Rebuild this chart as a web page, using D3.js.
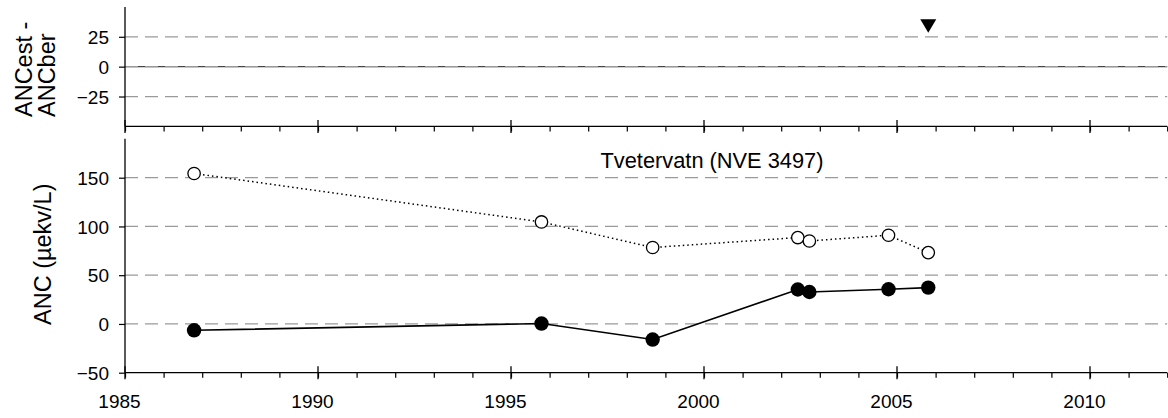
<!DOCTYPE html>
<html>
<head>
<meta charset="utf-8">
<script src="https://cdn.jsdelivr.net/npm/d3@7"></script>
<style>
  html, body { margin: 0; padding: 0; background: #fff; }
  svg { display: block; font-family: "Liberation Sans", Arial, sans-serif; }
  .domain { stroke: #000; stroke-width: 1.3; }
</style>
</head>
<body>
<div id="chart"></div>
<script>
// data
var sampleYears = [1986.79, 1995.79, 1998.67, 2002.43, 2002.73, 2004.78, 2005.81];
var ancEst = [154.3, 104.6, 78.4, 88.6, 85.1, 91.0, 73.2];      // open circles, dotted
var ancBer = [-6.5, 0.4, -16.0, 35.3, 32.8, 35.6, 37.3];        // filled circles, solid
var diffYears = [2005.81];
var diffValues = [34];                                          // ANCest - ANCber marker
var topTicks = [-25, 0, 25];
var bottomTicks = [-50, 0, 50, 100, 150];
var yearTicks = [1985, 1990, 1995, 2000, 2005, 2010];
var stationTitle = "Tvetervatn (NVE 3497)";

var width = 1168, height = 418;
var svg = d3.select("#chart").append("svg")
    .attr("width", width)
    .attr("height", height);

var x = d3.scaleLinear().domain([1985, 2012]).range([125, 1167.2]);
var yTop = d3.scaleLinear().domain([-50, 50]).range([126.4, 6.9]);
var yBot = d3.scaleLinear().domain([-50, 190]).range([372.7, 138.7]);

var font = "Liberation Sans, Arial, sans-serif";
var gridColor = "#9a9a9a";

function grid(scale, values, cls) {
    svg.append("g").attr("class", cls)
        .selectAll("line")
        .data(values)
        .enter()
        .append("line")
        .attr("x1", x(1985))
        .attr("x2", x(2012))
        .attr("y1", function (d) { return scale(d); })
        .attr("y2", function (d) { return scale(d); })
        .attr("stroke", gridColor)
        .attr("stroke-width", 1.3)
        .attr("stroke-dasharray", "13,7");
}

function yearAxis(yPos, withLabels) {
    var minor = d3.range(1985, 2013);
    var g = svg.append("g").attr("transform", "translate(0," + yPos + ")");
    g.call(d3.axisBottom(x).tickValues(minor).tickSize(5).tickFormat(""));
    g.selectAll(".tick line").attr("stroke", "#000").attr("stroke-width", 1.2);
    g.select(".domain").attr("d", "M" + x(1985) + ",0H" + x(2012));
    // major ticks cross the axis line
    g.selectAll(".major")
        .data(yearTicks)
        .enter()
        .append("line")
        .attr("class", "major")
        .attr("x1", function (d) { return x(d); })
        .attr("x2", function (d) { return x(d); })
        .attr("y1", -6.5)
        .attr("y2", 6.5)
        .attr("stroke", "#000")
        .attr("stroke-width", 1.3);
    if (withLabels) {
        g.selectAll(".yl")
            .data(yearTicks)
            .enter()
            .append("text")
            .attr("class", "yl")
            .attr("x", function (d) { return x(d) - 5.5; })
            .attr("y", 35.5)
            .attr("text-anchor", "middle")
            .attr("font-size", 19)
            .attr("fill", "#000")
            .text(function (d) { return d; });
    }
}

function valueAxis(scale, values) {
    var g = svg.append("g").attr("transform", "translate(" + x(1985) + ",0)");
    g.call(d3.axisLeft(scale).tickValues(values).tickSize(6).tickPadding(10));
    g.selectAll(".tick line").attr("stroke", "#000").attr("stroke-width", 1.2);
    g.selectAll(".tick text")
        .attr("font-family", font)
        .attr("font-size", 19)
        .attr("fill", "#000")
        .attr("dy", "0.35em");
    g.select(".domain").attr("d", "M0," + scale.range()[1] + "V" + scale.range()[0]);
}

// ---- top panel: ANCest - ANCber
grid(yTop, [-25, 25], "grid-top");
svg.append("line")
    .attr("x1", x(1985)).attr("x2", x(2012))
    .attr("y1", yTop(0)).attr("y2", yTop(0))
    .attr("stroke", "#444")
    .attr("stroke-width", 1.4);
grid(yTop, [0], "grid-zero");
valueAxis(yTop, topTicks);
yearAxis(yTop(-50), false);

var tri = 8, triH = 13.4;
svg.append("g").selectAll("path")
    .data(diffYears.map(function (d, i) { return { year: d, value: diffValues[i] }; }))
    .enter()
    .append("path")
    .attr("d", function (d) {
        var cx = x(d.year), cy = yTop(d.value);
        return "M" + (cx - tri) + "," + (cy - triH / 2) +
            "L" + (cx + tri) + "," + (cy - triH / 2) +
            "L" + cx + "," + (cy + triH / 2) + "Z";
    })
    .attr("fill", "#000");

svg.append("text")
    .attr("transform", "translate(32,117) rotate(-90)")
    .attr("font-size", 23.5)
    .attr("text-anchor", "start")
    .text("ANCest -");
svg.append("text")
    .attr("transform", "translate(55,117) rotate(-90)")
    .attr("font-size", 23.5)
    .attr("text-anchor", "start")
    .text("ANCber");

// ---- bottom panel: ANC
grid(yBot, [0, 50, 100, 150], "grid-bottom");
valueAxis(yBot, bottomTicks);
yearAxis(yBot(-50), true);

svg.append("text")
    .attr("transform", "translate(51,325) rotate(-90)")
    .attr("font-size", 23.5)
    .attr("text-anchor", "start")
    .text("ANC (\u00b5ekv/L)");

svg.append("text")
    .attr("x", 712)
    .attr("y", 168)
    .attr("text-anchor", "middle")
    .attr("font-size", 21.8)
    .text(stationTitle);

var estPts = sampleYears.map(function (d, i) { return [d, ancEst[i]]; });
var berPts = sampleYears.map(function (d, i) { return [d, ancBer[i]]; });

var line = d3.line()
    .x(function (d) { return x(d[0]); })
    .y(function (d) { return yBot(d[1]); });

svg.append("path")
    .datum(estPts)
    .attr("d", line)
    .attr("fill", "none")
    .attr("stroke", "#000")
    .attr("stroke-width", 1.5)
    .attr("stroke-dasharray", "1.5,3");

svg.append("path")
    .datum(berPts)
    .attr("d", line)
    .attr("fill", "none")
    .attr("stroke", "#000")
    .attr("stroke-width", 1.6);

svg.append("g").selectAll("circle")
    .data(estPts)
    .enter()
    .append("circle")
    .attr("cx", function (d) { return x(d[0]); })
    .attr("cy", function (d) { return yBot(d[1]); })
    .attr("r", 6.2)
    .attr("fill", "#fff")
    .attr("stroke", "#000")
    .attr("stroke-width", 1.3);

svg.append("g").selectAll("circle")
    .data(berPts)
    .enter()
    .append("circle")
    .attr("cx", function (d) { return x(d[0]); })
    .attr("cy", function (d) { return yBot(d[1]); })
    .attr("r", 7.2)
    .attr("fill", "#000");
</script>
</body>
</html>
